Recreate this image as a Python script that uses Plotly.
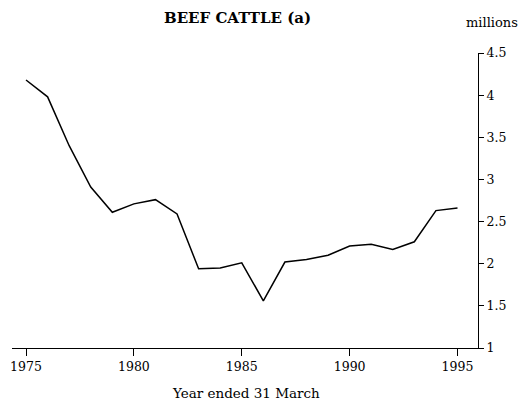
import plotly.graph_objects as go

years = list(range(1975, 1996))
beef_cattle = [4.18, 3.98, 3.40, 2.91, 2.61, 2.71, 2.76, 2.59, 1.94, 1.95, 2.01,
               1.56, 2.02, 2.05, 2.10, 2.21, 2.23, 2.17, 2.26, 2.63, 2.66]
x_ticks = [1975, 1980, 1985, 1990, 1995]
y_ticks = [1, 1.5, 2, 2.5, 3, 3.5, 4, 4.5]
y_tick_text = ["1", "1.5", "2", "2.5", "3", "3.5", "4", "4.5"]

FONT = "DejaVu Serif"
# The page body has a default 8px margin, so the figure is 8px smaller and
# everything is laid out in coordinates shifted by 8px.
OFF = 8
W, H = 530 - OFF, 411 - OFF
L, R, T, B = 12 - OFF, 52, 53 - OFF, 63
pw = W - L - R
ph = H - T - B


def px_to_paper(px, py):
    px -= OFF
    py -= OFF
    return (px - L) / pw, (H - B - py) / ph


fig = go.Figure()
fig.add_trace(go.Scatter(x=years, y=beef_cattle, mode="lines",
                         line=dict(color="black", width=1.5), showlegend=False))

ann_specs = [
    ("<b>BEEF CATTLE (a)</b>", 237, 18, 15),
    ("millions", 492, 22, 13),
    ("Year ended 31 March", 246, 393, 13.5),
]
annotations = []
for text, px, py, size in ann_specs:
    x, y = px_to_paper(px, py)
    annotations.append(dict(text=text, x=x, y=y, xref="paper", yref="paper",
                            xanchor="center", yanchor="middle", showarrow=False,
                            font=dict(family=FONT, size=size, color="black")))

fig.update_layout(
    width=W, height=H,
    margin=dict(l=L, r=R, t=T, b=B, autoexpand=False),
    paper_bgcolor="white", plot_bgcolor="white",
    font=dict(family=FONT, size=12, color="black"),
    xaxis=dict(range=[1974.35, 1995.95], tickvals=x_ticks, ticks="outside",
               ticklen=7, tickwidth=1, tickcolor="black", showline=True,
               linecolor="black", linewidth=1, showgrid=False, zeroline=False,
               automargin=False, tickfont=dict(family=FONT, size=12.5)),
    yaxis=dict(range=[1, 4.5], side="right", tickvals=y_ticks, ticktext=y_tick_text,
               ticks="outside", ticklen=5, tickwidth=1, tickcolor="black",
               showline=True, linecolor="black", linewidth=1, showgrid=False,
               zeroline=False, automargin=False, tickfont=dict(family=FONT, size=12.5)),
    annotations=annotations,
)

fig.write_html("out.html")
